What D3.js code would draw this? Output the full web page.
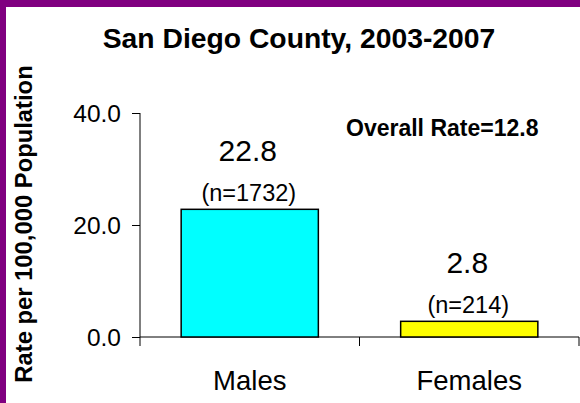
<!DOCTYPE html>
<html>
<head>
<meta charset="utf-8">
<script src="https://cdn.jsdelivr.net/npm/d3@7"></script>
<style>
  body { margin: 0; background: #fff; }
  svg text { font-family: Arial, "Liberation Sans", sans-serif; fill: #000; }
</style>
</head>
<body>
<div id="chart"></div>
<script>
// data
var categories = ["Males", "Females"];
var rates = [22.8, 2.8];
var counts = [1732, 214];
var barColors = ["#00ffff", "#ffff00"];
var yTicks = [0, 20, 40];
var overallRate = 12.8;

var W = 580, H = 403;

var svg = d3.select("#chart")
  .append("svg")
    .attr("width", W)
    .attr("height", H);

// purple frame on top and left
svg.append("rect").attr("x", 0).attr("y", 0).attr("width", W).attr("height", 7).attr("fill", "#800080");
svg.append("rect").attr("x", 0).attr("y", 0).attr("width", 6).attr("height", H).attr("fill", "#800080");

// scales
var x = d3.scaleBand()
  .domain(categories)
  .range([140, 579])
  .paddingInner(0.375)
  .paddingOuter(0.1875);

var y = d3.scaleLinear()
  .domain([0, 40])
  .range([337, 113]);

// Y axis
var yAxis = d3.axisLeft(y)
  .tickValues(yTicks)
  .tickFormat(d3.format(".1f"))
  .tickSizeInner(8)
  .tickSizeOuter(0)
  .tickPadding(11);

var gy = svg.append("g")
  .attr("transform", "translate(140,0)")
  .call(yAxis);
gy.select(".domain").remove();
gy.selectAll("line").attr("stroke", "#000");
gy.selectAll("text").style("font-size", "24.5px").attr("dy", "0.36em");
// vertical axis line, runs a little below zero
gy.append("line")
  .attr("x1", 0).attr("x2", 0)
  .attr("y1", y(40)).attr("y2", y(0) + 9)
  .attr("stroke", "#000");

// X axis
var gx = svg.append("g")
  .attr("transform", "translate(0," + y(0) + ")")
  .call(d3.axisBottom(x).tickSize(0).tickPadding(0));
gx.select(".domain").remove();
gx.append("line")
  .attr("x1", 140).attr("x2", x.range()[1])
  .attr("y1", 0).attr("y2", 0)
  .attr("stroke", "#000");
gx.selectAll(".tick text")
  .attr("y", 53)
  .attr("dy", 0)
  .style("font-size", "27.5px");

// category separator ticks
var gap = (x.step() - x.bandwidth()) / 2;
var bounds = categories.map(function(c) { return x(c) + x.bandwidth() + gap; });
gx.selectAll(".sep")
  .data(bounds)
  .join("line")
    .attr("class", "sep")
    .attr("x1", function(d) { return d; })
    .attr("x2", function(d) { return d; })
    .attr("y1", 0).attr("y2", 9)
    .attr("stroke", "#000");

// bars
svg.selectAll(".bar")
  .data(categories)
  .join("rect")
    .attr("class", "bar")
    .attr("x", function(d) { return x(d); })
    .attr("width", x.bandwidth())
    .attr("y", function(d, i) { return y(rates[i]); })
    .attr("height", function(d, i) { return y(0) - y(rates[i]); })
    .attr("fill", function(d, i) { return barColors[i]; })
    .attr("stroke", "#000")
    .attr("stroke-width", 1.5);

// value labels
svg.selectAll(".val")
  .data(categories)
  .join("text")
    .attr("class", "val")
    .attr("text-anchor", "middle")
    .attr("x", function(d) { return x(d) + x.bandwidth() / 2 - 2; })
    .attr("y", function(d, i) { return y(rates[i]) - 48; })
    .style("font-size", "30px")
    .text(function(d, i) { return rates[i].toFixed(1); });

svg.selectAll(".cnt")
  .data(categories)
  .join("text")
    .attr("class", "cnt")
    .attr("text-anchor", "middle")
    .attr("x", function(d) { return x(d) + x.bandwidth() / 2 - 1; })
    .attr("y", function(d, i) { return y(rates[i]) - 8; })
    .style("font-size", "23.5px")
    .text(function(d, i) { return "(n=" + counts[i] + ")"; });

// title
svg.append("text")
  .attr("x", 299)
  .attr("y", 48)
  .attr("text-anchor", "middle")
  .style("font-size", "28.3px")
  .style("font-weight", "bold")
  .text("San Diego County, 2003-2007");

svg.append("text")
  .attr("x", 346)
  .attr("y", 136)
  .style("font-size", "23px")
  .style("font-weight", "bold")
  .text("Overall Rate=" + overallRate);

// y label
svg.append("text")
  .attr("transform", "translate(32,224) rotate(-90)")
  .attr("text-anchor", "middle")
  .style("font-size", "23.8px")
  .style("font-weight", "bold")
  .text("Rate per 100,000 Population");
</script>
</body>
</html>
